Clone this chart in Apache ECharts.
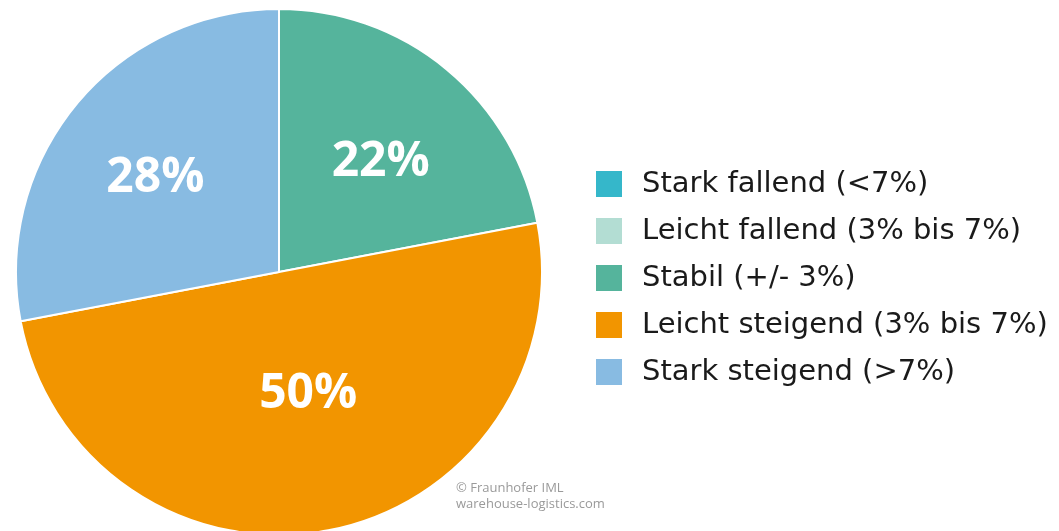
<!DOCTYPE html>
<html>
<head>
<meta charset="utf-8">
<script src="https://cdn.jsdelivr.net/npm/echarts@6/dist/echarts.min.js"></script>
<style>
  html, body { margin: 0; padding: 0; background: #fff; }
  #main { width: 1059px; height: 531px; }
</style>
</head>
<body>
<div id="main"></div>
<script>
// Kategorien und Anteile (%)
const categories = [
  'Stark fallend (<7%)',
  'Leicht fallend (3% bis 7%)',
  'Stabil (+/- 3%)',
  'Leicht steigend (3% bis 7%)',
  'Stark steigend (>7%)'
]
const shares = [0, 0, 22, 50, 28]
const colors = ['#35b7ca', '#b3ddd3', '#55b49c', '#f29500', '#88bbe2']

// Feinjustierung der Labelposition je Segment
const labelOffsets = [[0, 0], [0, 0], [16, -6], [4, -10], [-20, -8]]

const chart = echarts.init(document.getElementById('main'), null, { renderer: 'canvas' })

const fontFamily = '"Open Sans", "Noto Sans", sans-serif'

chart.setOption({
  animation: false,
  color: colors,
  legend: {
    orient: 'vertical',
    left: 594,
    top: 169,
    padding: 0,
    itemWidth: 28,
    itemHeight: 28,
    itemGap: 17,
    icon: 'rect',
    selectedMode: false,
    textStyle: {
      fontFamily: '"DejaVu Sans", sans-serif',
      fontSize: 29,
      lineHeight: 28,
      color: '#1a1a1a',
      padding: [0, 0, 0, 14]
    },
    data: categories
  },
  graphic: [
    {
      type: 'text',
      left: 456,
      top: 480,
      style: {
        text: '© Fraunhofer IML\nwarehouse-logistics.com',
        font: '13px ' + fontFamily,
        fill: '#9a9a9a',
        lineHeight: 16
      }
    }
  ],
  series: [
    {
      type: 'pie',
      center: [279, 272],
      radius: 263,
      startAngle: 90,
      clockwise: true,
      stillShowZeroSum: true,
      itemStyle: { borderColor: '#fff', borderWidth: 2 },
      label: {
        position: 'inside',
        color: '#fff',
        fontFamily,
        fontWeight: 'bold',
        fontSize: 48,
        formatter: (p) => (p.value > 0 ? p.value + '%' : '')
      },
      labelLine: { show: false },
      emphasis: { disabled: true },
      data: categories.map((name, i) => ({
        name,
        value: shares[i],
        label: { offset: labelOffsets[i] }
      }))
    }
  ]
})
</script>
</body>
</html>
